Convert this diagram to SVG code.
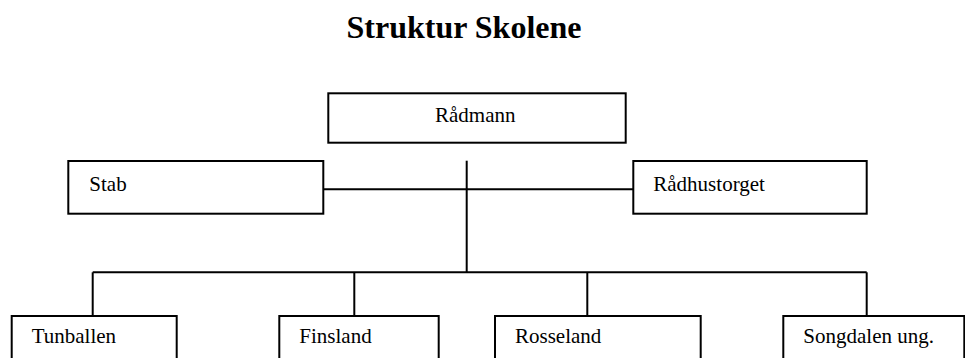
<svg xmlns="http://www.w3.org/2000/svg" width="965" height="358" viewBox="0 0 965 358">
<style>
.box{fill:#fff;stroke:#000;stroke-width:2}
.lbl{font-family:"Liberation Serif","Times New Roman",serif;font-size:21px;fill:#000}
.title{font-family:"Liberation Serif","Times New Roman",serif;font-size:32px;font-weight:bold;fill:#000}
.conn{stroke:#000;stroke-width:2;fill:none}
</style>
<rect width="965" height="358" fill="#fff"/>
<text class="title" x="464" y="38" text-anchor="middle">Struktur Skolene</text>
<g id="connectors">
<line class="conn" x1="466.7" y1="160.7" x2="466.7" y2="272.3"/>
<line class="conn" x1="323" y1="189.3" x2="633.5" y2="189.3"/>
<line class="conn" x1="92.7" y1="272.3" x2="866.7" y2="272.3"/>
<line class="conn" x1="92.7" y1="272.3" x2="92.7" y2="316"/>
<line class="conn" x1="354.3" y1="272.3" x2="354.3" y2="316"/>
<line class="conn" x1="587.3" y1="272.3" x2="587.3" y2="316"/>
<line class="conn" x1="866.7" y1="272.3" x2="866.7" y2="316"/>
</g>
<g id="radmann">
<rect class="box" x="328.3" y="93.3" width="297.4" height="49.4"/>
<text class="lbl" x="435" y="122">Rådmann</text>
</g>
<g id="stab">
<rect class="box" x="68.3" y="161" width="255" height="52.7"/>
<text class="lbl" x="89.3" y="190.7">Stab</text>
</g>
<g id="radhustorget">
<rect class="box" x="633.3" y="161" width="233.4" height="52.7"/>
<text class="lbl" x="653.3" y="190.7">Rådhustorget</text>
</g>
<g id="tunballen">
<rect class="box" x="11.7" y="316" width="165" height="60"/>
<text class="lbl" x="31.7" y="343.3">Tunballen</text>
</g>
<g id="finsland">
<rect class="box" x="279.3" y="316" width="159.4" height="60"/>
<text class="lbl" x="299.3" y="343.3">Finsland</text>
</g>
<g id="rosseland">
<rect class="box" x="495" y="316" width="205.7" height="60"/>
<text class="lbl" x="515" y="343.3">Rosseland</text>
</g>
<g id="songdalen">
<rect class="box" x="783.3" y="316" width="181" height="60"/>
<text class="lbl" x="803.3" y="343.3">Songdalen ung.</text>
</g>
</svg>
